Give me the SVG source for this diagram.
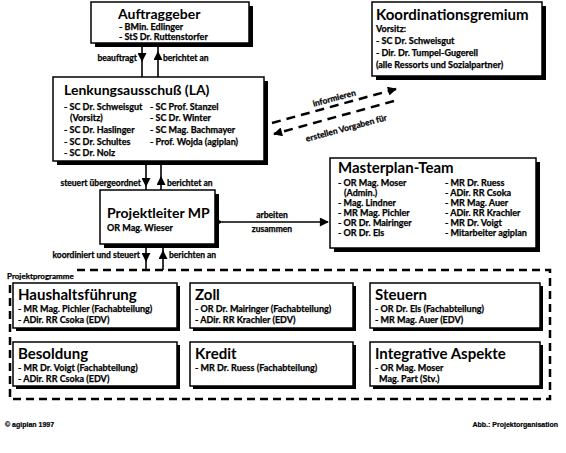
<svg xmlns="http://www.w3.org/2000/svg" width="566" height="453" viewBox="0 0 566 453">
<style>
.bg{fill:#fff}
.sh{fill:#000}
.bx{fill:#fff;stroke:#000;stroke-width:1.5}
.t{font-family:Lato,"Open Sans","Liberation Sans",sans-serif;font-weight:700;font-size:14px;fill:#000}
.t2{font-family:Lato,"Open Sans","Liberation Sans",sans-serif;font-weight:700;font-size:15px;fill:#000}
.i{font-family:Lato,"Open Sans","Liberation Sans",sans-serif;font-weight:700;font-size:9px;fill:#000;stroke:#000;stroke-width:0.25}
.l{font-family:Lato,"Open Sans","Liberation Sans",sans-serif;font-weight:700;font-size:8.5px;fill:#000;stroke:#000;stroke-width:0.25}
.f{font-family:"Liberation Sans",Arial,sans-serif;font-weight:700;font-size:7px;fill:#000;stroke:#000;stroke-width:0.2}
.ln{fill:none;stroke:#000;stroke-width:1.6}
.dl{fill:none;stroke:#000;stroke-width:2.5;stroke-dasharray:9 6}
.ob{fill:none;stroke:#000;stroke-width:2.5;stroke-dasharray:8 5}
</style>
<defs>
<marker id="ah" viewBox="0 0 10 10" refX="9" refY="5" markerWidth="10" markerHeight="9" markerUnits="userSpaceOnUse" orient="auto">
<path d="M0,0 L10,5 L0,10 Z" fill="#000"/>
</marker>
</defs>
<rect class="bg" x="0" y="0" width="566" height="453"/>

<g id="connectors">
<path class="ln" d="M142,46 L142,61 L142,77" marker-mid="url(#ah)"/>
<path class="ln" d="M158,77 L158,52 L158,46" marker-mid="url(#ah)"/>
<path class="ln" d="M146,163 L146,186 L146,190" marker-mid="url(#ah)"/>
<path class="ln" d="M161,190 L161,177 L161,163" marker-mid="url(#ah)"/>
<path class="ln" d="M146,248 L146,261 L146,270" marker-mid="url(#ah)"/>
<path class="ln" d="M163,270 L163,251 L163,248" marker-mid="url(#ah)"/>
<line class="ln" x1="222" y1="222" x2="328" y2="222" marker-start="url(#ah)" marker-end="url(#ah)"/>
<line class="dl" x1="272" y1="123" x2="396" y2="89" marker-end="url(#ah)"/>
<line class="dl" x1="394" y1="101" x2="274" y2="134" marker-end="url(#ah)"/>
<text class="l" x="142" y="61" text-anchor="end" dx="-5">beauftragt</text>
<text class="l" x="163" y="61">berichtet an</text>
<text class="l" x="141" y="186" text-anchor="end">steuert übergeordnet</text>
<text class="l" x="167" y="186">berichtet an</text>
<text class="l" x="140" y="258" text-anchor="end">koordiniert und steuert</text>
<text class="l" x="169" y="258">berichten an</text>
<text class="l" x="272" y="218" text-anchor="middle">arbeiten</text>
<text class="l" x="272" y="232" text-anchor="middle">zusammen</text>
<text class="l" x="335" y="101" text-anchor="middle" transform="rotate(-15 335 101)">informieren</text>
<text class="l" x="347" y="131" text-anchor="middle" transform="rotate(-15 347 131)">erstellen Vorgaben für</text>
</g>

<g id="auftraggeber">
<rect class="sh" x="95" y="6" width="158" height="41"/>
<rect class="bx" x="91" y="2" width="158" height="41"/>
<text class="t" x="118" y="19">Auftraggeber</text>
<text class="i" x="119" y="30">- BMin. Edlinger</text>
<text class="i" x="119" y="40">- StS Dr. Ruttenstorfer</text>
</g>

<g id="koordinationsgremium">
<rect class="sh" x="376" y="6" width="170" height="74"/>
<rect class="bx" x="372" y="2" width="170" height="74"/>
<text class="t2" x="376" y="20">Koordinationsgremium</text>
<text class="i" x="376" y="32">Vorsitz:</text>
<text class="i" x="376" y="44">- SC Dr. Schweisgut</text>
<text class="i" x="376" y="56">- Dir. Dr. Tumpel-Gugerell</text>
<text class="i" x="376" y="68">(alle Ressorts und Sozialpartner)</text>
</g>

<g id="lenkungsausschuss">
<rect class="sh" x="57" y="81" width="211" height="84"/>
<rect class="bx" x="53" y="77" width="211" height="84"/>
<text class="t" x="64" y="95">Lenkungsausschuß (LA)</text>
<text class="i" x="64" y="110">- SC Dr. Schweisgut</text>
<text class="i" x="70" y="121">(Vorsitz)</text>
<text class="i" x="64" y="133">- SC Dr. Haslinger</text>
<text class="i" x="64" y="145">- SC Dr. Schultes</text>
<text class="i" x="64" y="156">- SC Dr. Nolz</text>
<text class="i" x="150" y="110">- SC Prof. Stanzel</text>
<text class="i" x="150" y="121">- SC Dr. Winter</text>
<text class="i" x="150" y="133">- SC Mag. Bachmayer</text>
<text class="i" x="150" y="145">- Prof. Wojda (agiplan)</text>
</g>

<g id="projektleiter">
<rect class="sh" x="104" y="194" width="115" height="54"/>
<rect class="bx" x="100" y="190" width="115" height="54"/>
<text class="t" x="107" y="218">Projektleiter MP</text>
<text class="i" x="107" y="231">OR Mag. Wieser</text>
</g>

<g id="masterplan">
<rect class="sh" x="334" y="162" width="206" height="90"/>
<rect class="bx" x="330" y="158" width="206" height="90"/>
<text class="t2" x="338" y="173">Masterplan-Team</text>
<text class="i" x="338" y="186">- OR Mag. Moser</text>
<text class="i" x="344" y="196">(Admin.)</text>
<text class="i" x="338" y="206">- Mag. Lindner</text>
<text class="i" x="338" y="216">- MR Mag. Pichler</text>
<text class="i" x="338" y="226">- OR Dr. Mairinger</text>
<text class="i" x="338" y="236">- OR Dr. Els</text>
<text class="i" x="445" y="186">- MR Dr. Ruess</text>
<text class="i" x="445" y="196">- ADir. RR Csoka</text>
<text class="i" x="445" y="206">- MR Mag. Auer</text>
<text class="i" x="445" y="216">- ADir. RR Krachler</text>
<text class="i" x="445" y="226">- MR Dr. Voigt</text>
<text class="i" x="445" y="236">- Mitarbeiter agiplan</text>
</g>

<g id="projektprogramme">
<path class="ob" d="M77,270 H550 V399 H10 V283"/>
<text class="i" x="7" y="279" style="font-size:8px">Projektprogramme</text>
</g>

<g id="haushaltsfuehrung">
<rect class="sh" x="16" y="286" width="164" height="45"/>
<rect class="bx" x="13" y="283" width="164" height="45"/>
<text class="t2" x="18" y="300">Haushaltsführung</text>
<text class="i" x="18" y="312">- MR Mag. Pichler (Fachabteilung)</text>
<text class="i" x="18" y="323">- ADir. RR Csoka (EDV)</text>
</g>

<g id="zoll">
<rect class="sh" x="193" y="286" width="163" height="45"/>
<rect class="bx" x="190" y="283" width="163" height="45"/>
<text class="t2" x="195" y="300">Zoll</text>
<text class="i" x="195" y="312">- OR Dr. Mairinger (Fachabteilung)</text>
<text class="i" x="195" y="323">- ADir. RR Krachler (EDV)</text>
</g>

<g id="steuern">
<rect class="sh" x="373" y="286" width="170" height="45"/>
<rect class="bx" x="370" y="283" width="170" height="45"/>
<text class="t2" x="375" y="300">Steuern</text>
<text class="i" x="375" y="312">- OR Dr. Els (Fachabteilung)</text>
<text class="i" x="375" y="323">- MR Mag. Auer (EDV)</text>
</g>

<g id="besoldung">
<rect class="sh" x="16" y="345" width="164" height="44"/>
<rect class="bx" x="13" y="342" width="164" height="44"/>
<text class="t2" x="18" y="359">Besoldung</text>
<text class="i" x="18" y="371">- MR Dr. Voigt (Fachabteilung)</text>
<text class="i" x="18" y="382">- ADir. RR Csoka (EDV)</text>
</g>

<g id="kredit">
<rect class="sh" x="193" y="345" width="163" height="44"/>
<rect class="bx" x="190" y="342" width="163" height="44"/>
<text class="t2" x="195" y="359">Kredit</text>
<text class="i" x="195" y="371">- MR Dr. Ruess (Fachabteilung)</text>
</g>

<g id="integrative">
<rect class="sh" x="373" y="345" width="170" height="44"/>
<rect class="bx" x="370" y="342" width="170" height="44"/>
<text class="t2" x="375" y="359">Integrative Aspekte</text>
<text class="i" x="375" y="371">- OR Mag. Moser</text>
<text class="i" x="379" y="382">Mag. Part (Stv.)</text>
</g>

<g id="footer">
<text class="f" x="5" y="427">© agiplan 1997</text>
<text class="f" x="558" y="427" text-anchor="end">Abb.: Projektorganisation</text>
</g>
</svg>
